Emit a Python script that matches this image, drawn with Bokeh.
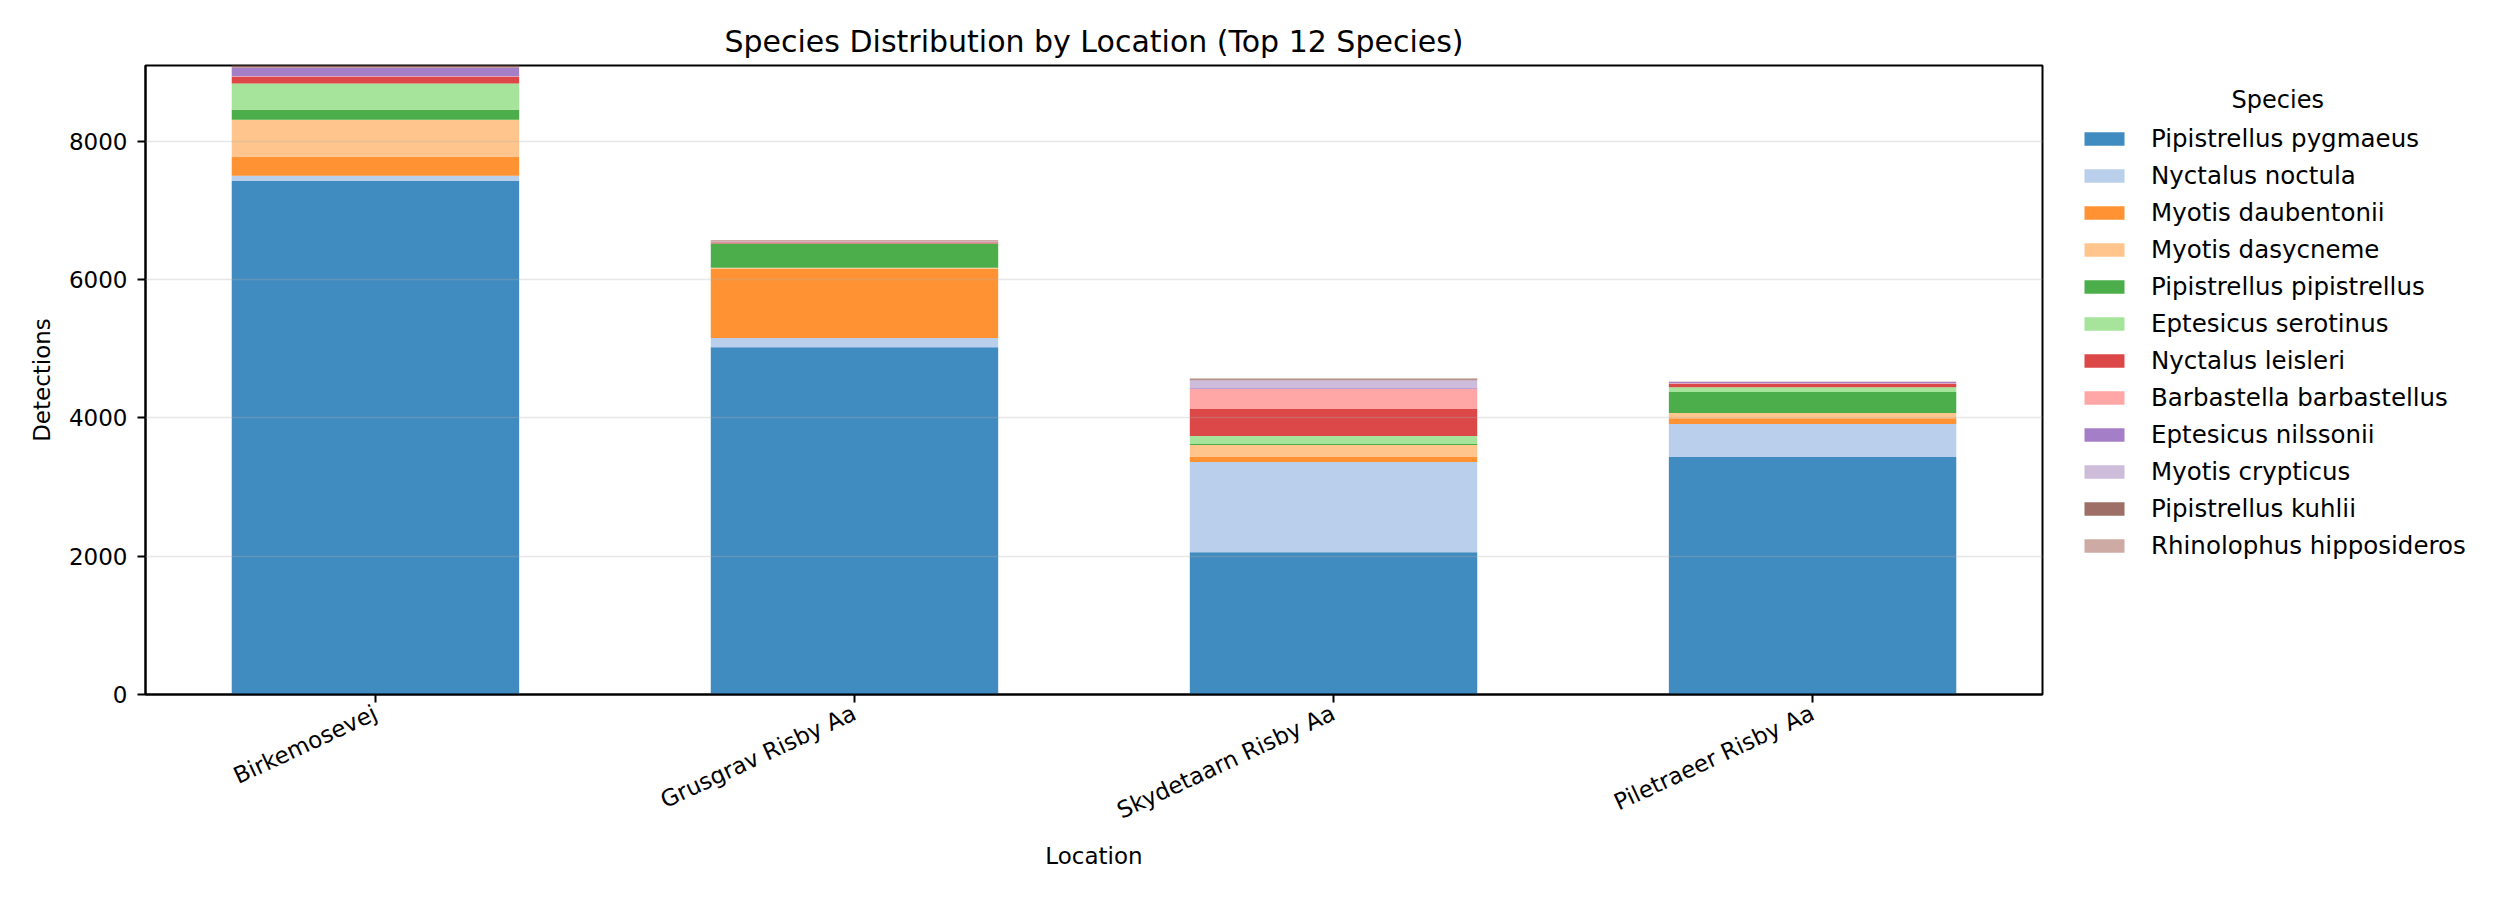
import math
from bokeh.plotting import figure
from bokeh.models import ColumnDataSource, Range1d, FixedTicker
from bokeh.embed import file_html
from bokeh.resources import INLINE

locations = ["Birkemosevej", "Grusgrav Risby Aa", "Skydetaarn Risby Aa", "Piletraeer Risby Aa"]
species = [
    "Pipistrellus pygmaeus", "Nyctalus noctula", "Myotis daubentonii", "Myotis dasycneme",
    "Pipistrellus pipistrellus", "Eptesicus serotinus", "Nyctalus leisleri",
    "Barbastella barbastellus", "Eptesicus nilssonii", "Myotis crypticus",
    "Pipistrellus kuhlii", "Rhinolophus hipposideros",
]
pipistrellus_pygmaeus = [7427, 5020, 2058, 3433]
nyctalus_noctula = [72, 135, 1302, 477]
myotis_daubentonii = [275, 998, 73, 83]
myotis_dasycneme = [536, 15, 174, 76]
pipistrellus_pipistrellus = [144, 347, 14, 304]
eptesicus_serotinus = [377, 6, 116, 68]
nyctalus_leisleri = [101, 12, 391, 48]
barbastella_barbastellus = [4, 6, 290, 10]
eptesicus_nilssonii = [126, 2, 9, 19]
myotis_crypticus = [3, 3, 116, 3]
pipistrellus_kuhlii = [22, 4, 14, 2]
rhinolophus_hipposideros = [6, 22, 15, 2]

y_ticks = [0, 2000, 4000, 6000, 8000]

series = [pipistrellus_pygmaeus, nyctalus_noctula, myotis_daubentonii, myotis_dasycneme,
          pipistrellus_pipistrellus, eptesicus_serotinus, nyctalus_leisleri,
          barbastella_barbastellus, eptesicus_nilssonii, myotis_crypticus,
          pipistrellus_kuhlii, rhinolophus_hipposideros]
colors = ["#1f77b4", "#aec7e8", "#ff7f0e", "#ffbb78", "#2ca02c", "#98df8a",
          "#d62728", "#ff9896", "#9467bd", "#c5b0d5", "#8c564b", "#c49c94"]

data = {"x": list(range(len(locations)))}
for name, vals in zip(species, series):
    data[name] = vals
source = ColumnDataSource(data)
totals = [sum(v) for v in zip(*series)]

FONT = "DejaVu Sans"
FRAME_W, FRAME_H = 1897, 629
p = figure(frame_width=FRAME_W, frame_height=FRAME_H, output_backend="svg", toolbar_location=None,
           x_range=Range1d(-0.48, len(locations) - 0.52), y_range=Range1d(0, max(totals)),
           min_border_left=145, min_border_right=450, min_border_top=65, min_border_bottom=200,
           title="Species Distribution by Location (Top 12 Species)")
p.title.align = "center"
p.title.text_font = FONT
p.title.text_font_size = "30px"
p.title.text_font_style = "normal"
p.title.text_color = "black"
p.title.standoff = 14

renderers = p.vbar_stack(species, x="x", width=0.6, source=source, color=colors,
                         fill_alpha=0.85, line_color=None, legend_label=species)

p.outline_line_color = "black"
p.outline_line_width = 2
p.outline_line_alpha = 1
p.xgrid.visible = False
p.ygrid.grid_line_color = "#b0b0b0"
p.ygrid.grid_line_alpha = 0.3
p.ygrid.grid_line_width = 1.6
p.ygrid.level = "overlay"
p.ygrid.ticker = FixedTicker(ticks=y_ticks)

p.xaxis.ticker = FixedTicker(ticks=list(range(len(locations))))
p.xaxis.major_label_overrides = {i: loc for i, loc in enumerate(locations)}
p.xaxis.major_label_orientation = math.radians(25)
p.yaxis.ticker = FixedTicker(ticks=y_ticks)
for ax in (p.xaxis[0], p.yaxis[0]):
    ax.axis_line_width = 2
    ax.axis_line_color = "black"
    ax.major_tick_out = 8
    ax.major_tick_in = 0
    ax.major_tick_line_width = 2
    ax.minor_tick_out = 0
    ax.minor_tick_in = 0
    ax.major_label_text_font = FONT
    ax.major_label_text_font_size = "23px"
    ax.major_label_text_color = "black"
    ax.axis_label_text_font = FONT
    ax.axis_label_text_font_size = "23px"
    ax.axis_label_text_font_style = "normal"
    ax.axis_label_text_color = "black"
p.xaxis.axis_label = "Location"
p.yaxis.axis_label = "Detections"
p.yaxis.major_label_standoff = 10
p.xaxis.major_label_standoff = 9
p.xaxis.axis_label_standoff = 5
p.yaxis.axis_label_standoff = 11

leg = p.legend[0]
p.center.remove(leg)
leg.title = "\u00a0" * 20 + "Species"
leg.title_text_font = FONT
leg.title_text_font_size = "24px"
leg.title_text_font_style = "normal"
leg.title_text_color = "black"
leg.title_standoff = 10
leg.location = (37, 134)
leg.border_line_color = None
leg.background_fill_alpha = 0
leg.padding = 0
leg.margin = 0
leg.glyph_width = 50
leg.glyph_height = 17
leg.label_height = 17
leg.spacing = 8
leg.label_standoff = 22
leg.label_text_font = FONT
leg.label_text_font_size = "24.5px"
leg.label_text_color = "black"
leg.label_text_baseline = "middle"
p.add_layout(leg, "right")

open("out.html", "w").write(file_html(p, INLINE))
